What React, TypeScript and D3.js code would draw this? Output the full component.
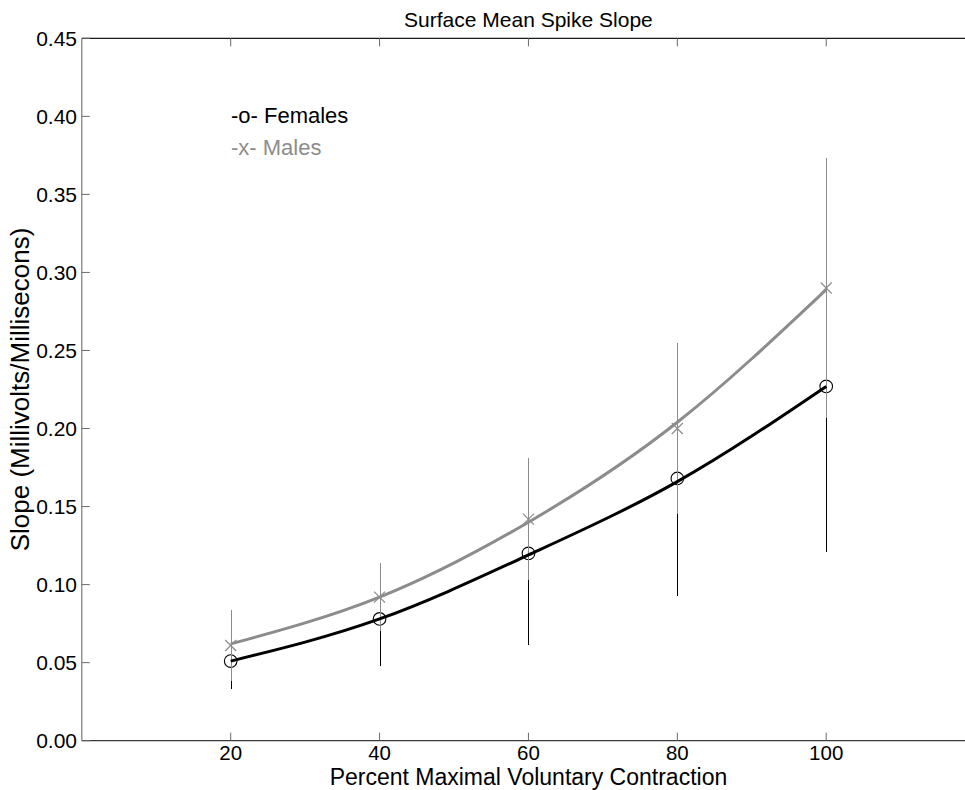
import React from 'react';
import * as d3 from 'd3';

// Percent of maximal voluntary contraction
const contraction = [20, 40, 60, 80, 100];

// Mean spike slope (mV/ms) with one standard deviation
const femaleMean = [0.051, 0.078, 0.120, 0.168, 0.227];
const femaleSD = [0.018, 0.030, 0.059, 0.075, 0.106];
const maleMean = [0.061, 0.092, 0.142, 0.200, 0.290];
const maleSD = [0.023, 0.022, 0.039, 0.055, 0.083];

// Fitted trend values at each contraction level
const femaleFit = [0.051, 0.078, 0.119, 0.166, 0.227];
const maleFit = [0.062, 0.092, 0.140, 0.204, 0.289];

const xTicks = [20, 40, 60, 80, 100];
const yTicks = [0, 0.05, 0.1, 0.15, 0.2, 0.25, 0.3, 0.35, 0.4, 0.45];

const W = 965;
const H = 790;
const FONT = '"Liberation Sans", Arial, Helvetica, sans-serif';
const GRAY = '#8c8c8c';

export default function App() {
  const x = d3.scaleLinear().domain([0, 120]).range([81.8, 975.1]);
  const y = d3.scaleLinear().domain([0, 0.45]).range([740.7, 38.3]);
  const [x0, x1] = x.range();
  const [yb, yt] = y.range();

  const fitLine = d3
    .line<number>()
    .x((_, i) => x(contraction[i]))
    .y((d) => y(d))
    .curve(d3.curveNatural);

  const tickLen = 8;
  const cross = 5.5;
  const px = (v: number) => Math.round(v) + 0.5;

  return (
    <svg
      width={W}
      height={H}
      style={{ position: 'absolute', left: 0, top: 0, background: '#fff' }}
      fontFamily={FONT}
    >
      <rect x={0} y={0} width={W} height={H} fill="#fff" />

      {/* title */}
      <text x={(x0 + x1) / 2} y={27} textAnchor="middle" fontSize={21} fill="#000">
        Surface Mean Spike Slope
      </text>

      {/* axes box */}
      <line x1={x0} x2={x1} y1={yt} y2={yt} stroke="#1a1a1a" strokeWidth={1.2} />
      <line x1={x0} x2={x1} y1={yb} y2={yb} stroke="#3a3a3a" strokeWidth={1.2} />
      <line x1={x0} x2={x0} y1={yt} y2={yb} stroke="#7a7a7a" strokeWidth={1.2} />

      {/* y ticks and labels */}
      {yTicks.map((t) => (
        <g key={`y${t}`}>
          <line x1={x0} x2={x0 + tickLen} y1={y(t)} y2={y(t)} stroke="#6a6a6a" strokeWidth={1} />
          <text x={77} y={y(t) + 7.5} textAnchor="end" fontSize={21} fill="#000">
            {t.toFixed(2)}
          </text>
        </g>
      ))}

      {/* x ticks and labels */}
      {xTicks.map((t) => (
        <g key={`x${t}`}>
          <line x1={x(t)} x2={x(t)} y1={yb} y2={yb - tickLen} stroke="#6a6a6a" strokeWidth={1} />
          <line x1={x(t)} x2={x(t)} y1={yt} y2={yt + tickLen} stroke="#6a6a6a" strokeWidth={1} />
          <text x={x(t)} y={759.5} textAnchor="middle" fontSize={20.5} fill="#000">
            {t}
          </text>
        </g>
      ))}

      {/* axis labels */}
      <text x={(x0 + x1) / 2} y={785} textAnchor="middle" fontSize={23} fill="#000">
        Percent Maximal Voluntary Contraction
      </text>
      <text
        transform={`translate(29, ${(yt + yb) / 2}) rotate(-90)`}
        textAnchor="middle"
        fontSize={26}
        fill="#000"
      >
        Slope (Millivolts/Millisecons)
      </text>

      {/* female error bars and markers */}
      {contraction.map((c, i) => (
        <line
          key={`fe${c}`}
          x1={px(x(c))}
          x2={px(x(c))}
          y1={Math.round(y(femaleMean[i] - femaleSD[i]))}
          y2={Math.round(y(femaleMean[i] + femaleSD[i]))}
          stroke="#000"
          strokeWidth={1}
          shapeRendering="crispEdges"
        />
      ))}
      {contraction.map((c, i) => (
        <circle
          key={`fm${c}`}
          cx={x(c)}
          cy={y(femaleMean[i])}
          r={6.3}
          fill="none"
          stroke="#000"
          strokeWidth={1.1}
        />
      ))}

      {/* male error bars and markers */}
      {contraction.map((c, i) => (
        <line
          key={`me${c}`}
          x1={px(x(c))}
          x2={px(x(c))}
          y1={Math.round(y(maleMean[i] - maleSD[i]))}
          y2={Math.round(y(maleMean[i] + maleSD[i]))}
          stroke={GRAY}
          strokeWidth={1}
          shapeRendering="crispEdges"
        />
      ))}
      {contraction.map((c, i) => (
        <g key={`mm${c}`} stroke={GRAY} strokeWidth={1.2}>
          <line
            x1={x(c) - cross}
            x2={x(c) + cross}
            y1={y(maleMean[i]) - cross}
            y2={y(maleMean[i]) + cross}
          />
          <line
            x1={x(c) - cross}
            x2={x(c) + cross}
            y1={y(maleMean[i]) + cross}
            y2={y(maleMean[i]) - cross}
          />
        </g>
      ))}

      {/* fitted trends */}
      <path d={fitLine(femaleFit) ?? ''} fill="none" stroke="#000" strokeWidth={3} />
      <path d={fitLine(maleFit) ?? ''} fill="none" stroke={GRAY} strokeWidth={3} />

      {/* key */}
      <text x={231} y={123} fontSize={22} fill="#000">
        -o- Females
      </text>
      <text x={231} y={155} fontSize={22} fill={GRAY}>
        -x- Males
      </text>
    </svg>
  );
}
